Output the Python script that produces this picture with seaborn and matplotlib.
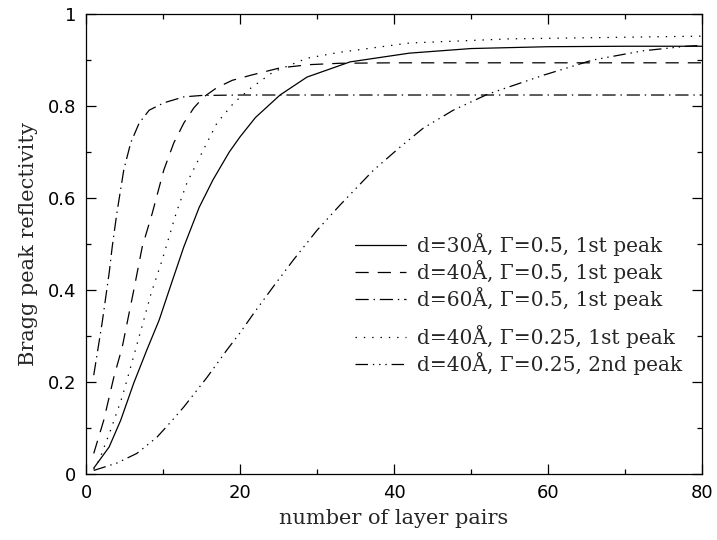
import matplotlib
matplotlib.use('Agg')
import matplotlib.pyplot as plt
import seaborn as sns

# Values
x_d30 = [1, 3, 4.5, 6.2, 7.9, 9.5, 11, 12.7, 14.7, 16.5, 18.6, 20, 22, 25.2, 28.7, 34.3, 42, 50, 60, 70, 80]
y_d30 = [0.013, 0.059, 0.117, 0.198, 0.27, 0.335, 0.41, 0.494, 0.58, 0.64, 0.70, 0.733, 0.775, 0.824, 0.863,
         0.896, 0.915, 0.925, 0.929, 0.930, 0.930]

x_d40 = [1, 2.3, 3.6, 4.7, 6.2, 7.3, 8.6, 10.1, 11.4, 12.7, 14, 15.3, 17, 19, 21.4, 25.2, 29, 33, 40, 80]
y_d40 = [0.045, 0.117, 0.21, 0.276, 0.40, 0.494, 0.567, 0.661, 0.72, 0.763, 0.796, 0.82, 0.84, 0.856, 0.867,
         0.883, 0.89, 0.893, 0.894, 0.894]

x_d60 = [1, 2.1, 3.0, 3.4, 4.0, 4.9, 5.8, 6.9, 8.2, 10.1, 12.7, 15, 20, 80]
y_d60 = [0.215, 0.33, 0.437, 0.494, 0.567, 0.661, 0.72, 0.763, 0.791, 0.807, 0.82, 0.823, 0.824, 0.824]

x_g25 = [1, 1.7, 3.2, 4.7, 5.8, 7.5, 8.4, 9.9, 11.7, 13.1, 15.1, 17, 19.2, 21.4, 24.3, 28.7, 33, 42, 55, 80]
y_g25 = [0.01, 0.03, 0.096, 0.168, 0.233, 0.335, 0.39, 0.466, 0.567, 0.633, 0.70, 0.763, 0.807, 0.839, 0.874,
         0.904, 0.917, 0.937, 0.946, 0.952]

x_g25b = [1, 4, 6.6, 9.2, 11.2, 12.7, 15.7, 18.3, 20, 21.8, 24.3, 27, 30, 33, 37.3, 40.8, 43.8, 47.7, 52.2,
          59.4, 65.8, 72.3, 78, 80]
y_g25b = [0.008, 0.024, 0.045, 0.08, 0.117, 0.146, 0.21, 0.27, 0.307, 0.35, 0.407, 0.467, 0.53, 0.585, 0.66,
          0.711, 0.752, 0.791, 0.826, 0.867, 0.9, 0.92, 0.930, 0.932]

labels = ['d=30Å, Γ=0.5, 1st peak', 'd=40Å, Γ=0.5, 1st peak', 'd=60Å, Γ=0.5, 1st peak',
          'd=40Å, Γ=0.25, 1st peak', 'd=40Å, Γ=0.25, 2nd peak']

sns.set_style('ticks')
plt.rcParams['font.family'] = ['DejaVu Serif']
plt.rcParams['lines.scale_dashes'] = False

fig = plt.figure(figsize=(7.17, 5.4), dpi=100)
ax = fig.add_axes([0.12, 0.122, 0.859, 0.852])

styles = ['-', (0, (9.5, 6.5)), (0, (9.5, 3.5, 1, 3.5)), (0, (1, 5)), (0, (9, 3.5, 1, 3.5, 1, 3.5, 1, 3.5))]
series = [(x_d30, y_d30), (x_d40, y_d40), (x_d60, y_d60), (x_g25, y_g25), (x_g25b, y_g25b)]

lines = []
for (xs, ys), ls, lab in zip(series, styles, labels):
    sns.lineplot(x=xs, y=ys, ax=ax, color='black', lw=0.9, linestyle=ls, label=lab, legend=False)
    lines.append(ax.lines[-1])

ax.set_xlim(0, 80)
ax.set_ylim(0, 1)
ax.set_xticks([0, 20, 40, 60, 80])
ax.set_xticks(range(0, 81, 10), minor=True)
ax.set_yticks([0, 0.2, 0.4, 0.6, 0.8, 1])
ax.set_yticklabels(['0', '0.2', '0.4', '0.6', '0.8', '1'])
ax.set_yticks([i / 10 for i in range(11)], minor=True)
ax.tick_params(which='both', direction='in', top=True, right=True, width=0.9, colors='black')
ax.tick_params(which='major', length=7, labelsize=13, pad=7)
ax.tick_params(which='minor', length=3.5)
for lbl in ax.get_xticklabels() + ax.get_yticklabels():
    lbl.set_family('DejaVu Sans')
for sp in ax.spines.values():
    sp.set_linewidth(0.9)
    sp.set_color('black')

ax.set_xlabel('number of layer pairs', fontsize=15, labelpad=5)
ax.set_ylabel('Bragg peak reflectivity', fontsize=15, labelpad=7)

leg_kw = dict(frameon=False, fontsize=14.5, handlelength=2.5, handletextpad=0.55,
              labelspacing=0.2, borderpad=0, borderaxespad=0, loc='upper left')
leg1 = ax.legend(lines[:3], labels[:3], bbox_to_anchor=(0.437, 0.524), **leg_kw)
ax.add_artist(leg1)
ax.legend(lines[3:], labels[3:], bbox_to_anchor=(0.437, 0.324), **leg_kw)

fig.savefig('out.png', dpi=100)
